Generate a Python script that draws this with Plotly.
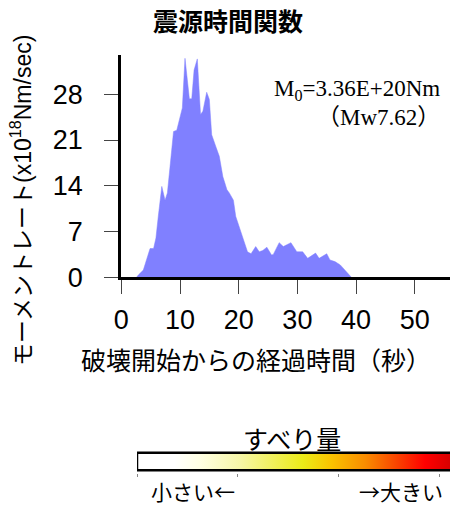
import plotly.graph_objects as go

# ---- data ----
times = [2.6, 2.9, 3.75, 4.3, 4.9, 5.5, 5.9, 6.3, 6.9, 7.45, 7.85, 8.3, 8.9, 9.45,
         10.0, 10.4, 10.85, 11.6, 12.0, 12.4, 12.95, 13.5, 13.9, 14.55, 15.0, 15.4,
         16.1, 16.7, 17.3, 18.0, 18.4, 19.1, 19.5, 20.5, 21.5, 22.1, 22.9, 23.5,
         24.1, 24.8, 25.6, 25.9, 26.9, 27.6, 28.1, 28.9, 29.9, 30.9, 31.75, 32.5,
         33.1, 33.7, 35.0, 35.55, 36.4, 37.3, 38.1, 38.9, 39.2]
moment_rate = [0, 0.35, 1.1, 2.65, 4.4, 4.4, 6.0, 9.3, 13.9, 11.8, 12.9, 16.9, 22.3, 22.5,
               24.6, 25.9, 33.5, 27.3, 27.3, 31.7, 33.4, 24.9, 25.4, 28.3, 27.2, 21.8,
               20.0, 18.5, 15.4, 13.4, 12.9, 11.8, 9.3, 6.7, 3.9, 3.6, 4.7, 3.9,
               4.1, 4.6, 3.4, 3.5, 5.3, 4.7, 4.9, 5.3, 3.9, 3.9, 2.9, 3.3,
               3.7, 2.9, 3.6, 2.65, 2.4, 1.9, 1.1, 0.35, 0]
x_ticks = [0, 10, 20, 30, 40, 50]
y_ticks = [0, 7, 14, 21, 28]

slip_bar_x = [0, 3.5, 3.5, 0, 0]
slip_bar_y = [0, 0, 1, 1, 0]
slip_ticks = [0, 1, 2, 3]

W, H = 450, 506
def px(x):
    return x / W
def py(y):
    return 1 - y / H

fig = go.Figure()

fig.add_trace(go.Scatter(
    x=times, y=moment_rate, mode="lines", fill="tozeroy",
    fillcolor="#8080FF", line=dict(color="#8080FF", width=0.5),
    hoverinfo="skip", showlegend=False, xaxis="x", yaxis="y",
))

# slip colour bar
fig.add_trace(go.Scatter(
    x=slip_bar_x, y=slip_bar_y, mode="lines", fill="toself",
    fillgradient=dict(
        type="horizontal", start=0, stop=3.1,
        colorscale=[
            [0.0, "#FFFFFF"], [0.12, "#FFFFFF"], [0.2, "#FFFFE4"],
            [0.33, "#F6F6A6"], [0.53, "#EBEB18"], [0.62, "#FAC300"],
            [0.73, "#FA8C00"], [0.84, "#FA3C00"], [0.92, "#FF0000"],
            [1.0, "#D80000"],
        ],
    ),
    line=dict(color="black", width=2.5),
    hoverinfo="skip", showlegend=False, xaxis="x2", yaxis="y2",
))

fig.update_layout(
    width=W, height=H,
    margin=dict(l=0, r=0, t=0, b=0, autoexpand=False),
    paper_bgcolor="white", plot_bgcolor="white",
    xaxis=dict(
        domain=[px(121.3), 1], range=[0, 56.0],
        showgrid=False, zeroline=False, automargin=False,
        showline=True, linecolor="black", linewidth=3,
        tickvals=x_ticks, ticks="outside", ticklen=14, tickwidth=1, tickcolor="#444",
        tickfont=dict(family="Liberation Sans", size=27, color="black"),
        ticklabelstandoff=2,
        anchor="y",
    ),
    yaxis=dict(
        domain=[py(277.3), py(55)], range=[0, 34],
        showgrid=False, zeroline=False, automargin=False,
        showline=True, linecolor="black", linewidth=3,
        tickvals=y_ticks, ticks="outside", ticklen=14, tickwidth=1, tickcolor="#444",
        tickfont=dict(family="Liberation Sans", size=27, color="black"),
        ticklabelstandoff=16,
        anchor="x",
    ),
    xaxis2=dict(
        domain=[px(137), 1], range=[0, 3.1],
        showgrid=False, zeroline=False, showline=False, automargin=False,
        tickvals=slip_ticks, ticks="outside", ticklen=3, tickwidth=1, tickcolor="#888",
        showticklabels=False, anchor="y2",
    ),
    yaxis2=dict(
        domain=[py(472.5), py(450.5)], range=[-0.12, 1.12],
        showgrid=False, zeroline=False, showline=False, automargin=False,
        showticklabels=False, ticks="", anchor="x2",
    ),
)

jp = "Noto Sans CJK JP"
ann = [
    dict(text="<b>震源時間関数</b>", x=px(228), y=py(20), size=25, family=jp),
    dict(text="破壊開始からの経過時間（秒）", x=px(256), y=py(359), size=25, family=jp),
    dict(text="すべり量", x=px(292), y=py(438), size=25, family=jp),
    dict(text="小さい←", x=px(193), y=py(491), size=21, family=jp),
    dict(text="→大きい", x=px(401), y=py(491), size=21, family=jp),
]
for a in ann:
    fig.add_annotation(text=a["text"], x=a["x"], y=a["y"], xref="paper", yref="paper",
                       xanchor="center", yanchor="middle", showarrow=False,
                       font=dict(family=a["family"], size=a["size"], color="black"))

fig.add_annotation(
    text="モーメントレート(x10<sup>18</sup>Nm/sec)", textangle=-90,
    x=px(21), y=py(201), xref="paper", yref="paper",
    xanchor="center", yanchor="middle", showarrow=False,
    font=dict(family="Liberation Sans, Noto Sans CJK JP", size=23, color="black"),
)
fig.add_annotation(
    text="M<sub>0</sub>=3.36E+20Nm", x=px(442), y=py(90), xref="paper", yref="paper",
    xanchor="right", yanchor="middle", showarrow=False,
    font=dict(family="Liberation Serif", size=23, color="black"),
)
fig.add_annotation(
    text="（Mw7.62）", x=px(442), y=py(117), xref="paper", yref="paper",
    xanchor="right", yanchor="middle", showarrow=False,
    font=dict(family="Liberation Serif, Noto Sans CJK JP", size=23, color="black"),
)

fig.write_html("out.html", post_script="document.body.style.margin='0';",
               config={"displayModeBar": False})
